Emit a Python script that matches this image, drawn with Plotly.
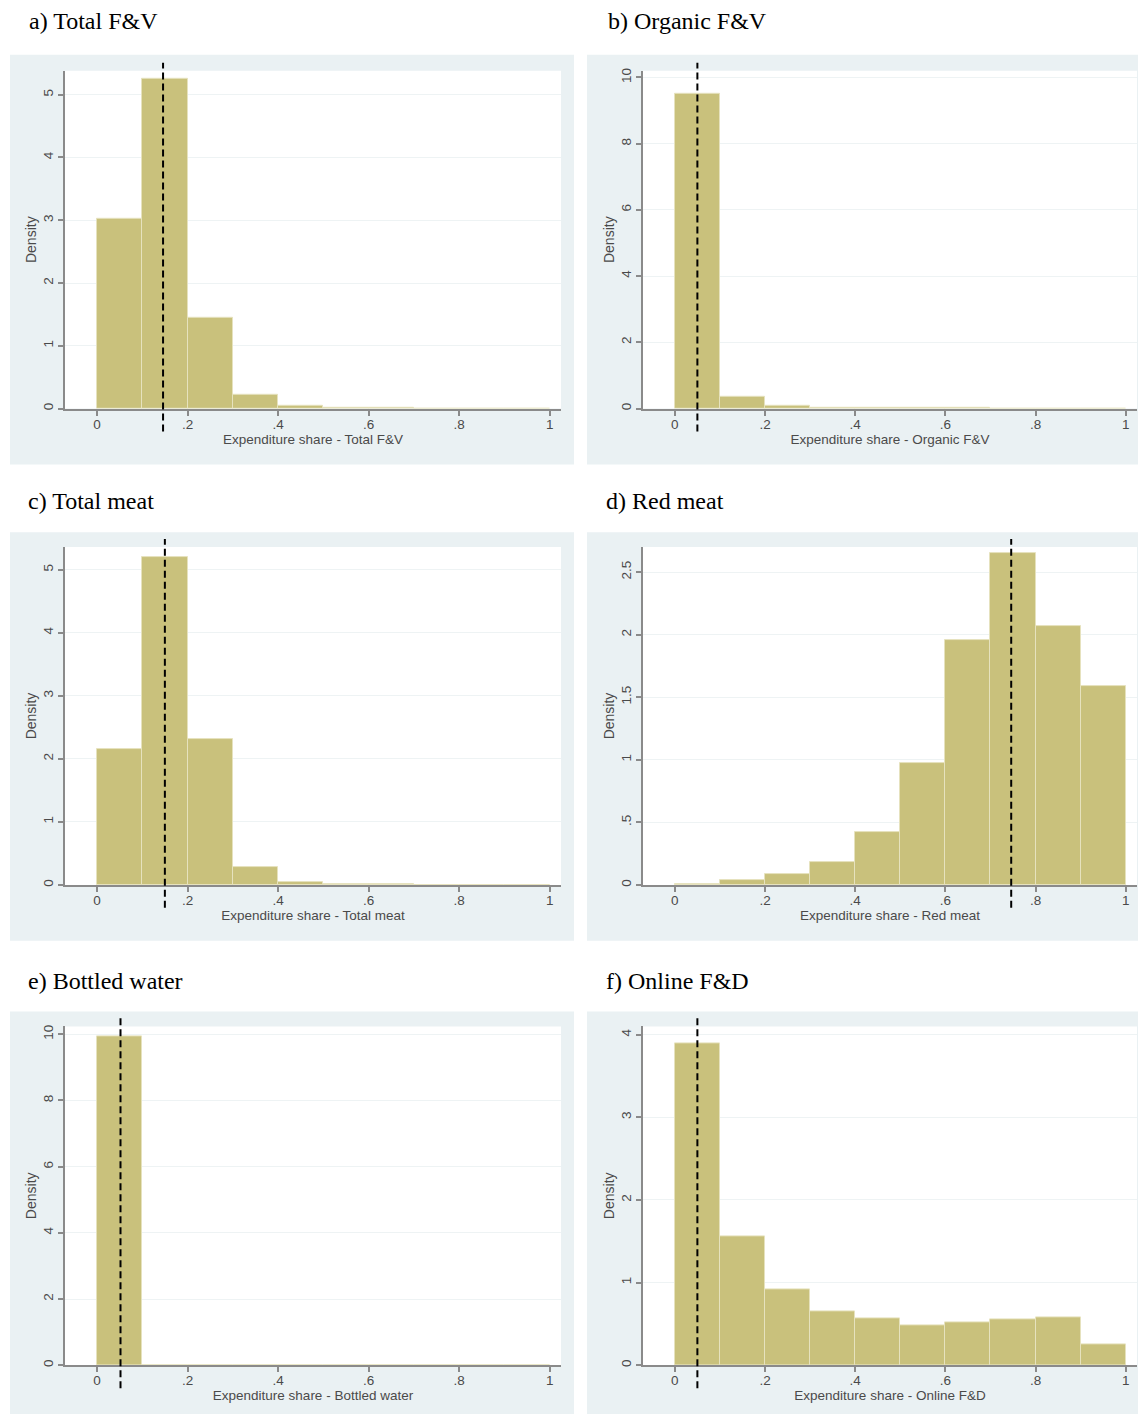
import plotly.graph_objects as go

# ---------------- data ----------------
bin_centers = [0.05, 0.15, 0.25, 0.35, 0.45, 0.55, 0.65, 0.75, 0.85, 0.95]
bin_width = 0.1

total_fv = [3.02, 5.25, 1.44, 0.22, 0.04, 0.012, 0.006, 0.004, 0.003, 0.003]
organic_fv = [9.50, 0.35, 0.07, 0.02, 0.015, 0.01, 0.01, 0.008, 0.008, 0.009]
total_meat = [2.15, 5.20, 2.32, 0.28, 0.04, 0.01, 0.005, 0.003, 0.003, 0.002]
red_meat = [0.01, 0.04, 0.09, 0.18, 0.42, 0.97, 1.96, 2.65, 2.07, 1.59]
bottled_water = [9.95, 0.008, 0.005, 0.004, 0.004, 0.003, 0.003, 0.003, 0.003, 0.003]
online_fd = [3.90, 1.56, 0.92, 0.65, 0.57, 0.48, 0.52, 0.55, 0.58, 0.25]

means = [0.146, 0.05, 0.15, 0.746, 0.052, 0.05]

panel_titles = ["a) Total F&V", "b) Organic F&V", "c) Total meat",
                "d) Red meat", "e) Bottled water", "f) Online F&D"]
x_titles = ["Expenditure share - Total F&V", "Expenditure share - Organic F&V",
            "Expenditure share - Total meat", "Expenditure share - Red meat",
            "Expenditure share - Bottled water", "Expenditure share - Online F&D"]
series = [total_fv, organic_fv, total_meat, red_meat, bottled_water, online_fd]

x_tickvals = [0, 0.2, 0.4, 0.6, 0.8, 1]
x_ticktext = ["0", ".2", ".4", ".6", ".8", "1"]

y_tickvals = [
    [0, 1, 2, 3, 4, 5],
    [0, 2, 4, 6, 8, 10],
    [0, 1, 2, 3, 4, 5],
    [0, 0.5, 1, 1.5, 2, 2.5],
    [0, 2, 4, 6, 8, 10],
    [0, 1, 2, 3, 4],
]
y_ticktext = [
    ["0", "1", "2", "3", "4", "5"],
    ["0", "2", "4", "6", "8", "10"],
    ["0", "1", "2", "3", "4", "5"],
    ["0", ".5", "1", "1.5", "2", "2.5"],
    ["0", "2", "4", "6", "8", "10"],
    ["0", "1", "2", "3", "4"],
]
y_max = [5.38, 10.2, 5.36, 2.70, 10.24, 4.1]

# ---------------- layout geometry (page pixels) ----------------
OFF = 8  # default body margin of the written page
W, H = 1146 - OFF, 1416 - OFF
col_px = [(65, 561), (643, 1137)]
row_px = [(68, 407), (546, 885), (1027, 1367)]
gray_cols = [(10, 574), (587, 1146)]
gray_rows = [(52, 463), (531, 941), (1012, 1416)]
title_pos = [(27, 18), (606, 18), (26, 500), (604, 500), (26, 981), (604, 981)]

x_range = [-0.0706, 1.025]

BAR = "#C9C17C"
BG = "#EAF1F3"
AXC = "#8a8a8a"
TXT = "#4a4a4a"
SANS = "Liberation Sans, Arial"


def px_x(p):
    return (p - OFF) / W


def px_y(p):
    return 1 - (p - OFF) / H


fig = go.Figure()
layout = dict(
    width=W, height=H,
    margin=dict(l=0, r=0, t=0, b=0),
    paper_bgcolor="white",
    plot_bgcolor="white",
    showlegend=False,
    shapes=[], annotations=[],
    bargap=0,
)

for i in range(6):
    r, c = divmod(i, 2)
    k = "" if i == 0 else str(i + 1)
    xa, ya = "x" + k, "y" + k
    fig.add_trace(go.Bar(
        x=bin_centers, y=series[i], width=bin_width,
        marker=dict(color=BAR, line=dict(color="#E6E2BE", width=1)),
        xaxis=xa, yaxis=ya, hoverinfo="x+y",
    ))
    layout["xaxis" + k] = dict(
        domain=[px_x(col_px[c][0]), px_x(col_px[c][1])],
        anchor=ya, range=x_range,
        tickvals=x_tickvals, ticktext=x_ticktext,
        ticks="outside", ticklen=5, tickwidth=1.5, tickcolor=AXC,
        ticklabelstandoff=-3,
        showline=True, linecolor=AXC, linewidth=2,
        showgrid=False, zeroline=False,
        tickfont=dict(family=SANS, size=13.5, color=TXT),
        title=dict(text=x_titles[i], standoff=1,
                   font=dict(family=SANS, size=13.5, color=TXT)),
    )
    layout["yaxis" + k] = dict(
        domain=[px_y(row_px[r][1]), px_y(row_px[r][0])],
        anchor=xa, range=[0, y_max[i]],
        tickvals=y_tickvals[i], ticktext=y_ticktext[i], tickangle=-90,
        ticks="outside", ticklen=5, tickwidth=1.5, tickcolor=AXC,
        showline=True, linecolor=AXC, linewidth=2,
        showgrid=True, gridcolor="#EEF3F4", gridwidth=1, zeroline=False,
        tickfont=dict(family=SANS, size=13.5, color=TXT),
        title=dict(text="Density", standoff=1,
                   font=dict(family=SANS, size=14, color=TXT)),
    )
    # gray outer panel
    layout["shapes"].append(dict(
        type="rect", xref="paper", yref="paper", layer="below",
        x0=px_x(gray_cols[c][0]), x1=px_x(gray_cols[c][1]),
        y0=px_y(gray_rows[r][1]), y1=px_y(gray_rows[r][0]),
        fillcolor=BG, line=dict(width=0),
    ))
    # white plot region
    layout["shapes"].append(dict(
        type="rect", xref="paper", yref="paper", layer="below",
        x0=px_x(col_px[c][0]), x1=px_x(col_px[c][1]),
        y0=px_y(row_px[r][1]), y1=px_y(row_px[r][0]),
        fillcolor="white", line=dict(width=0),
    ))
    # dashed mean line
    layout["shapes"].append(dict(
        type="line", xref=xa, yref=ya + " domain",
        x0=means[i], x1=means[i], y0=-0.068, y1=1.024,
        line=dict(color="black", width=2, dash="7px,4px"),
    ))
    layout["annotations"].append(dict(
        text=panel_titles[i], xref="paper", yref="paper",
        x=px_x(title_pos[i][0]), y=px_y(title_pos[i][1]),
        xanchor="left", yanchor="middle", showarrow=False,
        font=dict(family="Liberation Serif, Times New Roman", size=24, color="black"),
    ))

fig.update_layout(**layout)
fig.write_html("out.html")
